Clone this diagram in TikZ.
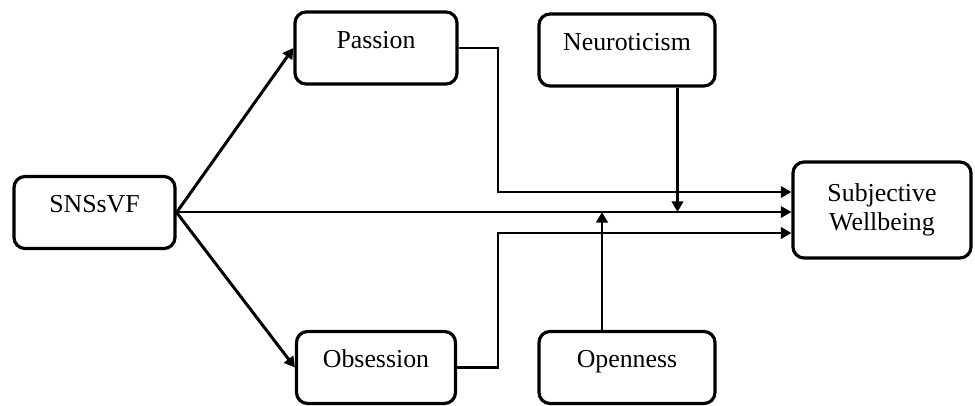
\documentclass[tikz,border=0pt]{standalone}
\usepackage{fontspec}
\setmainfont{Liberation Serif}
\usetikzlibrary{arrows.meta}

\begin{document}
\begin{tikzpicture}[
    box/.style={draw, line width=1.8pt, rounded corners=0.22cm, inner sep=0pt,
      text height=0.72cm, text depth=0.72cm, font=\fontsize{14.7}{17}\selectfont},
    path/.style={line width=1.7pt, -{Triangle[length=6pt,width=6.5pt]}}
  ]
  \useasboundingbox (0,0) rectangle (19.5,8.1);

  % boxes
  \node [box, minimum width=3.22cm](sns) at (1.89,3.85) {SNSsVF};
  \node [box, minimum width=3.24cm](pas) at (7.52,7.14) {Passion};
  \node [box, minimum width=3.18cm](obs) at (7.52,0.75) {Obsession};
  \node [box, minimum width=3.52cm](neu) at (12.54,7.10) {Neuroticism};
  \node [box, minimum width=3.52cm](ope) at (12.54,0.75) {Openness};
  \node [box, minimum width=3.56cm, minimum height=1.92cm, text height=, text depth=,
    align=center, font=\fontsize{14.7}{16.5}\selectfont](swb) at (17.64,3.90)
    {Subjective\\Wellbeing};

  % bend points
  \coordinate (pp) at (9.96,4.26);
  \coordinate (oo) at (9.96,3.44);
  \coordinate (mid) at (0,3.86);

  \draw [path] (sns.east) -- (pas.west);
  \draw [path] (sns.east) -- (obs.west);
  \draw [path, line width=1.3pt] (sns.east |- mid) -- (swb.west |- mid);
  \draw [path] (pas.east) -| (pp) -- (swb.west |- pp);
  \draw [path] (obs.east) -| (oo) -- (swb.west |- oo);

  % moderators
  \draw [path, line width=1.3pt] ([xshift=1.01cm]neu.south) -- ([xshift=1.01cm]neu.south |- mid);
  \draw [path] ([xshift=-0.5cm]ope.north) -- ([xshift=-0.5cm]ope.north |- mid);
\end{tikzpicture}
\end{document}
